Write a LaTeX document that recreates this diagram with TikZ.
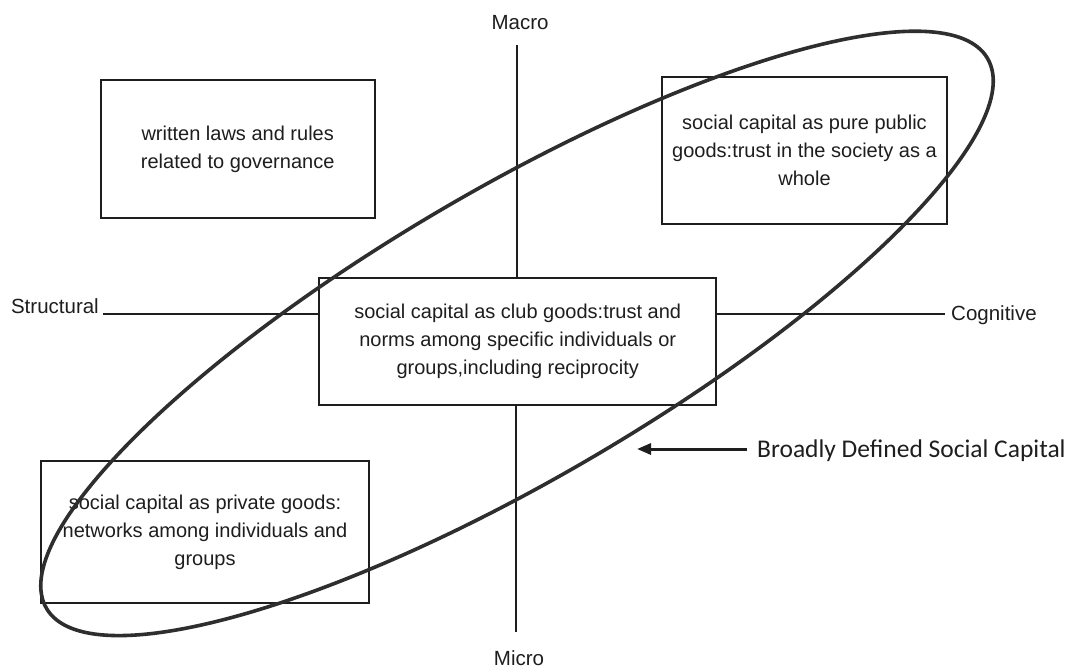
\documentclass[tikz,border=0pt]{standalone}
\usepackage{fontspec}
\setmainfont{Liberation Sans}
\newfontfamily\calfont{Carlito}
\usetikzlibrary{arrows.meta}
\definecolor{ink}{HTML}{1E1E1E}
\definecolor{ring}{HTML}{2E2E2E}
\begin{document}
\begin{tikzpicture}[x=1pt,y=-1pt,
  box/.style={draw=ink,line width=2pt,rectangle,align=center,font=\fontsize{20}{28}\selectfont,text=ink,inner sep=0pt},
  axis/.style={draw=ink,line width=1.8pt},
  lab/.style={font=\fontsize{20.5}{24}\selectfont,text=ink,inner sep=0pt}]
\useasboundingbox[fill=white] (0,0) rectangle (1073,669);

\node[box,minimum width=274pt,minimum height=138pt] (laws) at (237.7,149) {written laws and rules\\related to governance};
\node[box,minimum width=285pt,minimum height=147pt] (public) at (804.5,150.3) {social capital as pure public\\goods:trust in the society as a\\whole};
\node[box,minimum width=397pt,minimum height=127pt] (club) at (517.7,341.7) {social capital as club goods:trust and\\norms among specific individuals or\\groups,including reciprocity};
\node[box,minimum width=328pt,minimum height=142pt] (private) at (205,532) {social capital as private goods:\\networks among individuals and\\groups};

\node[lab,anchor=base] (macro) at (520,30) {Macro};
\node[lab,anchor=base] (micro) at (519,665) {Micro};
\node[lab,anchor=base east] (struct) at (99,313) {Structural};
\node[lab,anchor=base west] (cog) at (951,320) {Cognitive};

\coordinate (vtop) at (517,45);
\coordinate (vbot) at (516,632);
\coordinate (hl) at (103,314);
\coordinate (hr) at (945,314);
\draw[axis] (vtop) -- (vtop |- club.north);
\draw[axis] (club.south -| vbot) -- (vbot);
\draw[axis] (hl) -- (hl -| club.west);
\draw[axis] (club.east |- hr) -- (hr);

\node[anchor=base west,font=\calfont\fontsize{25.5}{30}\selectfont,text=ink,inner sep=0pt] (broad) at (757,457) {Broadly Defined Social Capital};
\coordinate (tail) at (747,449);
\coordinate (tip) at (637,449);
\draw[-{Triangle[length=14pt,width=11pt]},line width=3pt,ink] (tail) -- (tip);

\draw[ring,line width=3.6pt,rotate around={30.3:(517,333.4)}] (517,333.4) ellipse [x radius=545, y radius=145];
\end{tikzpicture}
\end{document}
